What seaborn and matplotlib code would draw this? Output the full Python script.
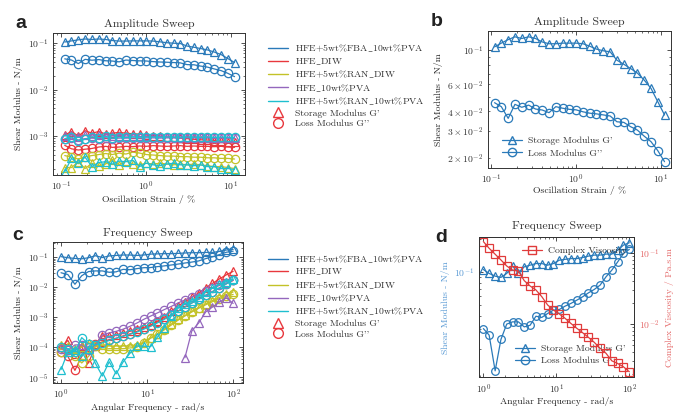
import numpy as np
import pandas as pd
import matplotlib.pyplot as plt
from matplotlib.lines import Line2D
import seaborn as sns

OUTPUT_PATH = "out.png"

# Sample names / colours shared by panels a and c
SAMPLES = ["HFE+5wt%FBA_10wt%PVA", "HFE_DIW", "HFE+5wt%RAN_DIW",
           "HFE_10wt%PVA", "HFE+5wt%RAN_10wt%PVA"]
COLORS = ["#2a7ab9", "#e8383d", "#c3c228", "#9467bd", "#1fbfcf"]
VISC_COLOR = "#e03b3b"

# Amplitude sweep: oscillation strain (%)
amp_strain = [0.11, 0.132, 0.159, 0.191, 0.23, 0.277, 0.333, 0.4, 0.481, 0.578,
              0.695, 0.836, 1.0, 1.21, 1.45, 1.74, 2.1, 2.52, 3.03, 3.65,
              4.38, 5.27, 6.33, 7.62, 9.16, 11.0]

# storage (G') and loss (G'') modulus, N/m
amp_fba_g1 = [0.105, 0.111, 0.117, 0.122, 0.119, 0.122, 0.119, 0.113, 0.110, 0.110,
              0.111, 0.111, 0.111, 0.110, 0.106, 0.1015, 0.099, 0.0975, 0.086, 0.081,
              0.076, 0.071, 0.064, 0.0565, 0.0463, 0.038]
amp_fba_g2 = [0.0456, 0.043, 0.0361, 0.0445, 0.0426, 0.044, 0.0415, 0.0409, 0.0393, 0.043,
              0.042, 0.0413, 0.041, 0.0398, 0.039, 0.0386, 0.038, 0.0374, 0.0343, 0.034,
              0.0319, 0.0303, 0.0277, 0.0255, 0.0223, 0.0189]
amp_diw_g1 = [1.05e-3, 1.25e-3, 1.0e-3, 1.3e-3, 1.15e-3, 1.25e-3, 1.1e-3, 1.15e-3, 1.2e-3, 1.15e-3,
              1.12e-3, 1.1e-3, 1.05e-3, 1.02e-3, 1.0e-3, 0.95e-3, 0.93e-3, 0.9e-3, 0.88e-3, 0.85e-3,
              0.83e-3, 0.82e-3, 0.8e-3, 0.78e-3, 0.76e-3, 0.75e-3]
amp_diw_g2 = [6.3e-4, 5.3e-4, 5.0e-4, 5.2e-4, 5.4e-4, 5.8e-4, 6.0e-4, 5.7e-4, 5.8e-4, 6.0e-4,
              5.9e-4, 6.1e-4, 6.0e-4, 6.2e-4, 6.1e-4, 6.0e-4, 6.1e-4, 6.2e-4, 6.0e-4, 6.1e-4,
              6.0e-4, 6.0e-4, 5.9e-4, 6.0e-4, 5.8e-4, 5.7e-4]
amp_randiw_g1 = [2.1e-4, 2.1e-4, 2.8e-4, 2.0e-4, 2.6e-4, 2.3e-4, 2.5e-4, 3.0e-4, 2.4e-4, 2.9e-4,
                 2.5e-4, 2.4e-4, 2.6e-4, 2.5e-4, 2.6e-4, 2.5e-4, 2.4e-4, 2.5e-4, 2.4e-4, 2.5e-4,
                 2.4e-4, 2.3e-4, 2.2e-4, 2.2e-4, 2.1e-4, 2.0e-4]
amp_randiw_g2 = [3.8e-4, 3.5e-4, 3.2e-4, 3.6e-4, 3.8e-4, 4.0e-4, 4.2e-4, 4.0e-4, 4.3e-4, 4.1e-4,
                 4.5e-4, 4.3e-4, 4.0e-4, 3.9e-4, 3.8e-4, 3.7e-4, 3.7e-4, 3.6e-4, 3.6e-4, 3.5e-4,
                 3.5e-4, 3.4e-4, 3.4e-4, 3.3e-4, 3.3e-4, 3.2e-4]
amp_pva_g1 = [1.0e-3, 1.05e-3, 0.95e-3, 1.05e-3, 1.0e-3, 1.05e-3, 1.0e-3, 1.0e-3, 1.02e-3, 1.0e-3,
              1.0e-3, 0.98e-3, 0.98e-3, 0.97e-3, 0.96e-3, 0.96e-3, 0.95e-3, 0.95e-3, 0.94e-3, 0.94e-3,
              0.93e-3, 0.93e-3, 0.92e-3, 0.92e-3, 0.91e-3, 0.9e-3]
amp_pva_g2 = [8.5e-4, 9.0e-4, 8.2e-4, 8.8e-4, 9.0e-4, 8.8e-4, 9.2e-4, 8.8e-4, 9.0e-4, 9.0e-4,
              9.1e-4, 9.0e-4, 9.1e-4, 9.1e-4, 9.0e-4, 9.1e-4, 9.1e-4, 9.0e-4, 9.1e-4, 9.1e-4,
              9.0e-4, 9.1e-4, 9.0e-4, 9.1e-4, 9.0e-4, 8.9e-4]
amp_ranpva_g1 = [1.7e-4, 3.3e-4, 2.6e-4, 3.5e-4, 2.2e-4, 2.7e-4, 2.8e-4, 2.5e-4, 2.9e-4, 2.8e-4,
                 3.0e-4, 2.2e-4, 2.6e-4, 2.4e-4, 2.3e-4, 2.5e-4, 2.6e-4, 2.4e-4, 2.4e-4, 2.3e-4,
                 2.4e-4, 2.2e-4, 2.2e-4, 2.0e-4, 2.0e-4, 1.9e-4]
amp_ranpva_g2 = [8.8e-4, 9.5e-4, 8.0e-4, 8.5e-4, 9.6e-4, 9.2e-4, 9.8e-4, 9.0e-4, 9.5e-4, 9.3e-4,
                 9.6e-4, 9.4e-4, 9.5e-4, 9.5e-4, 9.4e-4, 9.5e-4, 9.5e-4, 9.4e-4, 9.5e-4, 9.5e-4,
                 9.4e-4, 9.5e-4, 9.4e-4, 9.5e-4, 9.4e-4, 9.3e-4]

# Frequency sweep: angular frequency (rad/s)
freq = [1.0, 1.2, 1.45, 1.74, 2.09, 2.51, 3.02, 3.63, 4.37, 5.25,
        6.31, 7.59, 9.12, 11.0, 13.2, 15.8, 19.1, 22.9, 27.5, 33.1,
        39.8, 47.9, 57.5, 69.2, 83.2, 100.0]

frq_fba_g1 = [0.105, 0.0967, 0.0914, 0.089, 0.0967, 0.1127, 0.098, 0.111, 0.115, 0.119,
              0.119, 0.115, 0.119, 0.1277, 0.13, 0.132, 0.132, 0.135, 0.139, 0.142,
              0.142, 0.145, 0.145, 0.157, 0.175, 0.184]
frq_fba_g2 = [0.0305, 0.0266, 0.0126, 0.0243, 0.0335, 0.0351, 0.0351, 0.0316, 0.0327, 0.0395,
              0.0385, 0.0418, 0.0449, 0.0455, 0.0488, 0.0516, 0.0553, 0.0593, 0.0644, 0.0692,
              0.0757, 0.090, 0.1035, 0.123, 0.147, 0.16]
frq_diw_g1 = [1.0e-4, 1.7e-4, 6.0e-5, 1.1e-4, 3.0e-5, 1.1e-4, 2.4e-4, 2.3e-4, 2.6e-4, 3.0e-4,
              3.4e-4, 4.0e-4, 4.6e-4, 5.5e-4, 7.5e-4, 1.0e-3, 1.6e-3, 2.4e-3, 3.3e-3, 4.6e-3,
              6.5e-3, 9.5e-3, 1.35e-2, 1.9e-2, 2.6e-2, 3.4e-2]
frq_diw_g2 = [7e-5, 5e-5, 1.7e-5, 5e-5, 1.0e-4, 1.3e-4, 1.5e-4, 1.8e-4, 2.0e-4, 2.4e-4,
              2.8e-4, 3.4e-4, 4.2e-4, 5.2e-4, 7.0e-4, 9.0e-4, 1.2e-3, 1.6e-3, 2.2e-3, 3.0e-3,
              4.0e-3, 5.4e-3, 7.2e-3, 9.5e-3, 1.3e-2, 1.7e-2]
frq_randiw_g1 = [1.2e-4, 1.1e-4, 9e-5, 1.0e-4, 1.4e-4, 1.2e-4, 1.2e-4, 1.1e-4, 1.1e-4, 1.1e-4,
                 1.1e-4, 1.15e-4, 1.5e-4, 2.1e-4, 2.8e-4, 4.0e-4, 6.0e-4, 8.5e-4, 1.15e-3, 1.6e-3,
                 2.1e-3, 2.8e-3, 3.6e-3, 4.6e-3, 5.8e-3, 7.0e-3]
frq_randiw_g2 = [7e-5, 8e-5, 5e-5, 3e-5, 5e-5, 1.1e-4, 8.5e-5, 9e-5, 9e-5, 9e-5,
                 9.5e-5, 1.0e-4, 1.4e-4, 2.0e-4, 2.7e-4, 3.8e-4, 5.5e-4, 8.0e-4, 1.1e-3, 1.5e-3,
                 2.0e-3, 2.6e-3, 3.3e-3, 4.2e-3, 5.0e-3, 5.8e-3]
frq_pva_g1 = [np.nan] * 18 + [4.5e-5, 3.5e-4, 6.5e-4, 1.5e-3, 2.2e-3, 3.2e-3, 4.5e-3, 2.9e-3]
frq_pva_g2 = [9e-5, 8e-5, 1.2e-4, 1.2e-4, 8e-5, 1.2e-4, 2.6e-4, 3.0e-4, 3.4e-4, 4.0e-4,
              5.0e-4, 6.4e-4, 8.5e-4, 1.1e-3, 1.4e-3, 1.8e-3, 2.3e-3, 3.0e-3, 3.8e-3, 4.8e-3,
              6.0e-3, 7.5e-3, 9.2e-3, 1.15e-2, 1.4e-2, 1.7e-2]
frq_ranpva_g1 = [1.8e-5, 7e-5, 8e-5, 5e-5, 9e-5, 2.9e-5, 1.1e-5, 3.3e-5, 1.3e-5, 3.2e-5,
                 6.3e-5, 1.1e-4, 1.1e-4, 1.05e-4, 2.2e-4, 4.5e-4, 1.1e-3, 2.0e-3, 2.8e-3, 3.4e-3,
                 4.8e-3, 6.8e-3, 9.5e-3, 1.25e-2, 1.55e-2, 1.9e-2]
frq_ranpva_g2 = [1.0e-4, 9e-5, 7e-5, 2.1e-4, 1.3e-4, 1.2e-4, 1.4e-4, 1.7e-4, 2.0e-4, 2.3e-4,
                 2.7e-4, 3.2e-4, 4.0e-4, 5.0e-4, 6.5e-4, 8.5e-4, 1.15e-3, 1.6e-3, 2.2e-3, 3.0e-3,
                 4.0e-3, 5.4e-3, 7.2e-3, 9.5e-3, 1.3e-2, 1.8e-2]

# complex viscosity of the FBA sample (Pa.s.m)
frq_fba_visc = [0.143, 0.115, 0.095, 0.079, 0.065, 0.057, 0.0553, 0.0405, 0.0341, 0.030,
                0.0242, 0.0185, 0.0157, 0.0138, 0.012, 0.0102, 0.0087, 0.00755, 0.0065, 0.00553,
                0.00457, 0.00389, 0.00305, 0.0028, 0.00251, 0.00214]

amp_g1 = [amp_fba_g1, amp_diw_g1, amp_randiw_g1, amp_pva_g1, amp_ranpva_g1]
amp_g2 = [amp_fba_g2, amp_diw_g2, amp_randiw_g2, amp_pva_g2, amp_ranpva_g2]
frq_g1 = [frq_fba_g1, frq_diw_g1, frq_randiw_g1, frq_pva_g1, frq_ranpva_g1]
frq_g2 = [frq_fba_g2, frq_diw_g2, frq_randiw_g2, frq_pva_g2, frq_ranpva_g2]

# Style
sns.set_theme(style="ticks")
plt.rcParams["font.family"] = ["cmr10", "DejaVu Serif"]
plt.rcParams["mathtext.fontset"] = "cm"
plt.rcParams["axes.formatter.use_mathtext"] = True
plt.rcParams["axes.linewidth"] = 0.7
plt.rcParams["axes.edgecolor"] = "#333333"
plt.rcParams["text.color"] = "#333333"

FS = 7


def series(ax, x, y, color, marker, ms=6):
    sns.lineplot(x=x, y=y, ax=ax, color=color, marker=marker, markersize=ms,
                 markerfacecolor="none", markeredgecolor=color, markeredgewidth=0.9,
                 linewidth=0.9, estimator=None, legend=False)


def style_axis(ax, right=True):
    ax.tick_params(which="both", direction="in", top=True, right=right,
                   labelsize=FS, colors="#333333")
    ax.tick_params(which="major", length=3, width=0.6)
    ax.tick_params(which="minor", length=1.6, width=0.5)


def sample_legend(fig, top):
    # cmr10 has no underscore glyph, so draw it through mathtext
    labels = [s.replace("_", r"$\_$") for s in SAMPLES]
    labels += ["Storage Modulus G'", "Loss Modulus G''"]
    handles = [Line2D([], [], color=c, lw=1.0) for c in COLORS]
    handles += [Line2D([], [], color=COLORS[1], marker="^", ls="none", mfc="none", ms=7, mew=1.0),
                Line2D([], [], color=COLORS[1], marker="o", ls="none", mfc="none", ms=7, mew=1.0)]
    fig.legend(handles, labels, loc="upper left", bbox_to_anchor=(263 / 677, top),
               bbox_transform=fig.transFigure, frameon=False, fontsize=FS,
               borderpad=0, handlelength=2.1, handletextpad=0.7, labelspacing=0.18)


fig = plt.figure(figsize=(6.77, 4.12), dpi=100)
ax_a = fig.add_axes([0.0783, 0.5752, 0.2836, 0.3447])
ax_b = fig.add_axes([0.7208, 0.5922, 0.2703, 0.3325])
ax_c = fig.add_axes([0.0783, 0.0711, 0.2806, 0.3422])
ax_d = fig.add_axes([0.7080, 0.0842, 0.2285, 0.3398])

for ax in (ax_a, ax_b, ax_c, ax_d):
    ax.set_xscale("log")
    ax.set_yscale("log")

# a: amplitude sweep, all samples
for c, g1, g2 in zip(COLORS, amp_g1, amp_g2):
    series(ax_a, amp_strain, g1, c, "^")
    series(ax_a, amp_strain, g2, c, "o")
ax_a.set_xlim(0.08, 14.6)
ax_a.set_ylim(1.45e-4, 0.164)
ax_a.set_title("Amplitude Sweep", fontsize=8.5, pad=4)
ax_a.set_xlabel("Oscillation Strain / %", fontsize=FS, labelpad=1)
ax_a.set_ylabel("Shear Modulus - N/m", fontsize=FS, labelpad=3)
style_axis(ax_a)
sample_legend(fig, 1 - 38 / 412)

# b: amplitude sweep, FBA sample only
series(ax_b, amp_strain, amp_fba_g1, COLORS[0], "^")
series(ax_b, amp_strain, amp_fba_g2, COLORS[0], "o")
ax_b.set_xlim(0.092, 13.1)
ax_b.set_ylim(0.0172, 0.133)
ax_b.set_title("Amplitude Sweep", fontsize=8.5, pad=4)
ax_b.set_xlabel("Oscillation Strain / %", fontsize=FS, labelpad=0)
ax_b.set_ylabel("Shear Modulus - N/m", fontsize=FS, labelpad=3)
style_axis(ax_b)
hb = [Line2D([], [], color=COLORS[0], marker="^", mfc="none", ms=6, lw=0.9),
      Line2D([], [], color=COLORS[0], marker="o", mfc="none", ms=6, lw=0.9)]
ax_b.legend(hb, ["Storage Modulus G'", "Loss Modulus G''"], loc="lower left",
            bbox_to_anchor=(0.05, 0.04), frameon=False, fontsize=FS, borderpad=0,
            handlelength=2.1, handletextpad=0.6, labelspacing=0.35)

# c: frequency sweep, all samples
for c, g1, g2 in zip(COLORS, frq_g1, frq_g2):
    series(ax_c, freq, g1, c, "^")
    series(ax_c, freq, g2, c, "o")
ax_c.set_xlim(0.807, 130)
ax_c.set_ylim(6.6e-6, 0.33)
ax_c.set_title("Frequency Sweep", fontsize=8.5, pad=4)
ax_c.set_xlabel("Angular Frequency - rad/s", fontsize=FS, labelpad=1)
ax_c.set_ylabel("Shear Modulus - N/m", fontsize=FS, labelpad=3)
style_axis(ax_c)
sample_legend(fig, 1 - 248.5 / 412)

# d: frequency sweep of FBA sample with complex viscosity on twin axis
series(ax_d, freq, frq_fba_g1, COLORS[0], "^", ms=5.5)
series(ax_d, freq, frq_fba_g2, COLORS[0], "o", ms=5.5)
ax_d2 = ax_d.twinx()
ax_d2.set_yscale("log")
series(ax_d2, freq, frq_fba_visc, VISC_COLOR, "s", ms=5.5)
ax_d.set_xlim(0.88, 116)
ax_d.set_ylim(0.011, 0.206)
ax_d2.set_ylim(1.79e-3, 0.164)
ax_d.set_title("Frequency Sweep", fontsize=8.5, pad=6)
ax_d.set_xlabel("Angular Frequency - rad/s", fontsize=FS, labelpad=1)
ax_d.set_ylabel("Shear Modulus - N/m", fontsize=FS, color="#5b9bd5", labelpad=3)
ax_d2.set_ylabel("Complex Viscosity / Pa.s.m", fontsize=FS, color="#e56b6b", labelpad=4)
style_axis(ax_d, right=False)
ax_d.tick_params(axis="y", labelcolor="#5b9bd5")
ax_d2.tick_params(which="both", direction="in", labelsize=FS, labelcolor="#e56b6b")
ax_d2.tick_params(which="major", length=3, width=0.6)
ax_d2.tick_params(which="minor", length=1.6, width=0.5)
hv = [Line2D([], [], color=VISC_COLOR, marker="s", mfc="none", ms=6, lw=0.9)]
ax_d2.legend(hv, ["Complex Viscosity"], loc="upper left", bbox_to_anchor=(0.244, 0.97),
             frameon=False, fontsize=FS, borderpad=0, handlelength=2.1, handletextpad=0.6)
hd = [Line2D([], [], color=COLORS[0], marker="^", mfc="none", ms=6, lw=0.9),
      Line2D([], [], color=COLORS[0], marker="o", mfc="none", ms=6, lw=0.9)]
ax_d.legend(hd, ["Storage Modulus G'", "Loss Modulus G''"], loc="lower left",
            bbox_to_anchor=(0.198, 0.05), frameon=False, fontsize=FS, borderpad=0,
            handlelength=2.1, handletextpad=0.6, labelspacing=0.35)

# panel letters
for letter, (px, py) in zip("abcd", [(21, 23), (437, 21), (18, 235), (441, 237)]):
    fig.text(px / 677, 1 - py / 412, letter, fontsize=14, fontweight="bold",
             family="Liberation Sans", color="#222222", ha="center", va="center")

fig.savefig(OUTPUT_PATH, dpi=100)
plt.close(fig)
